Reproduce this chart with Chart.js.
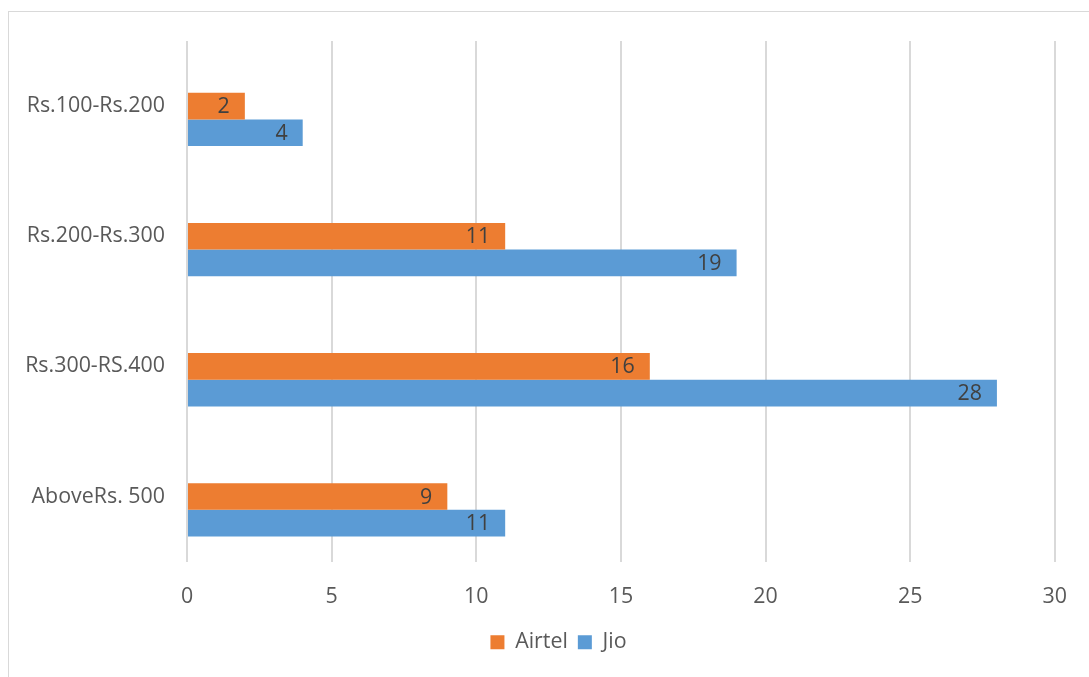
<!DOCTYPE html>
<html>
<head>
<meta charset="utf-8">
<script src="https://cdn.jsdelivr.net/npm/chart.js@4"></script>
<style>
    html, body { margin: 0; padding: 0; background: #fff; }
    #wrap { position: relative; width: 1089px; height: 677px; overflow: hidden; }
    #frame {
        position: absolute; left: 8px; top: 11px; width: 1200px; height: 800px;
        border-left: 1px solid #d9d9d9; border-top: 1px solid #d9d9d9;
        pointer-events: none;
    }
    canvas { position: absolute; left: 0; top: 0; }
</style>
</head>
<body>
<div id="wrap">
    <canvas id="chart" width="1089" height="677"></canvas>
    <div id="frame"></div>
</div>
<script>
// Chart data
const categories = ['Rs.100-Rs.200', 'Rs.200-Rs.300', 'Rs.300-RS.400', 'AboveRs. 500'];
const airtel = [2, 11, 16, 9];
const jio = [4, 19, 28, 11];
const blankSeries = [null, null, null, null]; // empty third series in the source sheet
const xTicks = [0, 5, 10, 15, 20, 25, 30];

const FONT = '"Open Sans", "Noto Sans", sans-serif';
const FONT_SIZE = 21.4;

// Draws the value at the inner end of each bar
const barLabels = {
    id: 'barLabels',
    afterDatasetsDraw(chart) {
        const ctx = chart.ctx;
        ctx.save();
        ctx.font = `${FONT_SIZE}px ${FONT}`;
        ctx.fillStyle = '#404040';
        ctx.textAlign = 'right';
        ctx.textBaseline = 'middle';
        chart.data.datasets.forEach((ds, i) => {
            if (!ds.showValues) return;
            chart.getDatasetMeta(i).data.forEach((bar, j) => {
                const v = ds.data[j];
                if (v === null) return;
                ctx.fillText(String(v), bar.x - 15, bar.y + 1);
            });
        });
        ctx.restore();
    }
};

// The original legend sits a bit right of the canvas centre
const legendShift = {
    id: 'legendShift',
    afterLayout(chart) {
        if (!chart.legend) return;
        chart.legend.left += 30;
        chart.legend.right += 30;
    }
};

new Chart(document.getElementById('chart'), {
    type: 'bar',
    data: {
        labels: categories,
        datasets: [{
            label: '',
            data: blankSeries,
            backgroundColor: 'rgba(0,0,0,0)',
            showValues: false
        }, {
            label: 'Airtel',
            data: airtel,
            backgroundColor: '#ED7D31',
            showValues: true
        }, {
            label: 'Jio',
            data: jio,
            backgroundColor: '#5B9BD5',
            showValues: true
        }]
    },
    options: {
        indexAxis: 'y',
        responsive: false,
        animation: false,
        categoryPercentage: 0.615,
        barPercentage: 1.0,
        layout: {
            padding: { top: 41, left: 0, right: 32, bottom: 14 }
        },
        scales: {
            x: {
                min: 0,
                max: 30,
                afterBuildTicks(scale) {
                    scale.ticks = xTicks.map(v => ({ value: v }));
                },
                afterFit(scale) { scale.height = 60; },
                grid: { color: '#d9d9d9', lineWidth: 2, drawTicks: false },
                border: { display: false },
                ticks: {
                    padding: 22,
                    color: '#595959',
                    font: { family: FONT, size: FONT_SIZE }
                }
            },
            y: {
                afterFit(scale) { scale.width = 187; },
                grid: { display: false, drawTicks: false },
                border: { display: false },
                ticks: {
                    padding: 22,
                    color: '#595959',
                    font: { family: FONT, size: FONT_SIZE }
                }
            }
        },
        plugins: {
            legend: {
                position: 'bottom',
                labels: {
                    filter: item => item.text !== '',
                    boxWidth: 14,
                    boxHeight: 14,
                    padding: 10,
                    color: '#595959',
                    font: { family: FONT, size: FONT_SIZE }
                }
            },
            tooltip: { enabled: false }
        }
    },
    plugins: [barLabels, legendShift]
});
</script>
</body>
</html>
